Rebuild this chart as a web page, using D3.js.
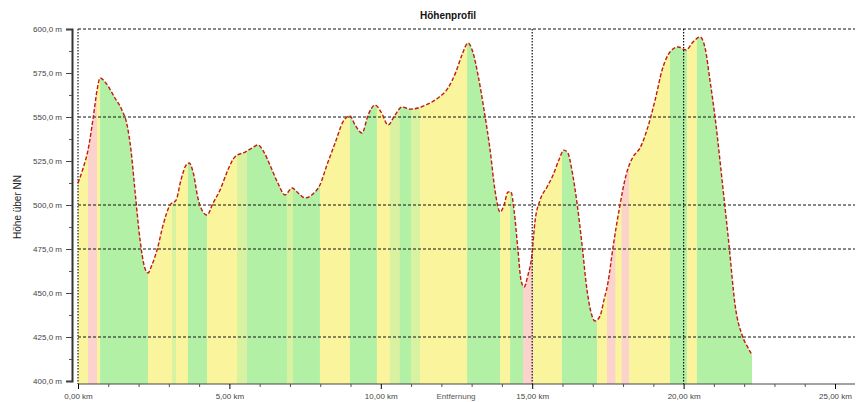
<!DOCTYPE html>
<html><head><meta charset="utf-8">
<script src="https://cdn.jsdelivr.net/npm/d3@7"></script>
<style>body{margin:0;background:#fff}svg{display:block;font-family:"Liberation Sans",Arial,sans-serif}</style>
</head><body><svg id="c" width="861" height="402"></svg>
<script>
const distKm=[0,0.17,0.33,0.50,0.63,0.73,0.92,1.22,1.45,1.62,1.75,1.88,2.05,2.18,2.31,2.44,2.61,2.81,3.04,3.24,3.40,3.57,3.67,3.80,3.96,4.13,4.26,4.46,4.69,4.95,5.18,5.52,5.75,5.94,6.14,6.34,6.60,6.84,7.07,7.27,7.50,7.76,7.99,8.22,8.49,8.75,8.98,9.15,9.38,9.58,9.81,10.01,10.24,10.47,10.70,10.96,11.23,11.56,11.89,12.22,12.48,12.68,12.88,13.04,13.21,13.41,13.61,13.77,13.94,14.07,14.20,14.30,14.40,14.53,14.63,14.73,14.86,14.99,15.09,15.26,15.49,15.69,15.88,16.05,16.18,16.31,16.48,16.64,16.81,16.94,17.07,17.24,17.37,17.50,17.67,17.87,18.10,18.33,18.56,18.79,19.06,19.29,19.55,19.82,20.08,20.31,20.54,20.71,20.87,21.07,21.27,21.50,21.70,21.93,22.13,22.26];
const elevM=[512.5,521,531.2,549.4,565.3,572.2,569.3,560.8,554,545.5,531.2,508.5,480.1,465.9,461.4,465.9,474.4,488.6,500,502.8,514.2,522.7,523.9,518.8,504,496,494.3,501.1,508.5,519.9,527.3,530.1,532.4,534.1,530.1,522.7,512.5,505.7,509.7,506.8,504,506.3,511.4,522.7,535.2,547.2,550.6,545.5,540.9,551.1,556.8,552.8,545.5,551.1,555.7,554.5,555.1,557.4,560.8,566.5,575.6,585.2,592,586.9,573.9,554,531.2,508.5,496,500,507.4,507.4,497.2,474.4,457.4,453.4,460.2,471.6,490.3,502.8,510.2,517,525.6,531.2,529.5,519.9,501.1,478.4,451.7,439.2,434.1,436.9,446,455.7,476.1,497.2,517,527.3,532.4,542.6,559.7,576.7,586.9,589.8,588.1,592.6,595.5,589.2,571,545.5,514.2,477.3,443.2,426.1,418.8,414.8];
// gradient class stripes: start km, end km, class
const stripeStart=[0,0.33,0.63,0.73,2.31,3.10,3.24,3.63,4.26,5.25,5.58,6.90,7.10,7.99,8.98,9.87,10.30,10.63,11.00,11.30,11.72,12.85,13.94,14.27,14.70,15.03,15.98,17.14,17.47,17.75,17.95,18.20,18.46,19.55,20.11,20.44];
const stripeEnd=[0.33,0.63,0.73,2.31,3.10,3.24,3.63,4.26,5.25,5.58,6.90,7.10,7.99,8.98,9.87,10.30,10.63,11.00,11.30,11.72,12.85,13.94,14.27,14.70,15.03,15.98,17.14,17.47,17.75,17.95,18.20,18.46,19.55,20.11,20.44,22.4];
const stripeClass=["y","p","y","g","y","m","y","g","y","m","g","m","g","y","g","y","m","g","m","y","y","g","y","g","p","y","g","y","p","y","p","y","y","g","y","g"];
const yTicks=[600,575,550,525,500,475,450,425,400];
const yGrid=[600,550,500,475,425];
const xTicks=[0,5,10,15,20,25];
const xGrid=[15,20];
const xTickLabels=["0,00 km","5,00 km","10,00 km","15,00 km","20,00 km","25,00 km"];
const title="Höhenprofil", yTitle="Höhe über NN", xTitle="Entfernung";

const colors={g:"#b2f0a6",y:"#faf59c",p:"#fcd2cc",m:"#d8f2a2"};
const svg=d3.select("#c");
const x=d3.scaleLinear().domain([0,25]).range([78,835]);
const y=d3.scaleLinear().domain([400,600]).range([381,29]);
const pts=distKm.map((d,i)=>[d,elevM[i]]);

const area=d3.area().x(d=>x(d[0])).y0(y(400)+3).y1(d=>y(d[1])).curve(d3.curveMonotoneX);
const line=d3.line().x(d=>x(d[0])).y(d=>y(d[1])).curve(d3.curveMonotoneX);

svg.append("defs").append("clipPath").attr("id","ac").append("path").attr("d",area(pts));
const g=svg.append("g").attr("clip-path","url(#ac)");
g.selectAll("rect").data(stripeStart).join("rect")
 .attr("x",(d)=>x(d)).attr("width",(d,i)=>x(stripeEnd[i])-x(d)+0.5)
 .attr("y",20).attr("height",370).attr("fill",(d,i)=>colors[stripeClass[i]]);

// grid
svg.selectAll(".hg").data(yGrid).join("line").attr("class","hg")
 .attr("x1",78).attr("x2",855).attr("y1",d=>y(d)).attr("y2",d=>y(d))
 .attr("stroke","#111").attr("stroke-width",1).attr("stroke-dasharray","3,2");
svg.selectAll(".vg").data(xGrid).join("line").attr("class","vg")
 .attr("x1",d=>x(d)).attr("x2",d=>x(d)).attr("y1",29).attr("y2",384)
 .attr("stroke","#111").attr("stroke-width",1.2).attr("stroke-dasharray","1.5,1.5");
svg.append("line").attr("x1",x(0)).attr("x2",x(0)).attr("y1",29).attr("y2",384)
 .attr("stroke","#222").attr("stroke-width",1.2).attr("stroke-dasharray","1.5,1.5");

// profile line
svg.append("path").attr("d",line(pts)).attr("fill","none")
 .attr("stroke","#c21a10").attr("stroke-width",1.4).attr("stroke-dasharray","4,2");

// y axis
const ya=svg.append("g").attr("transform","translate(72,0)")
 .call(d3.axisLeft(y).tickValues(yTicks).tickSize(6).tickPadding(4).tickFormat(d=>d3.format(".1f")(d).replace(".",",")+" m"));
ya.select(".domain").attr("stroke","#333").attr("stroke-width",2);
ya.selectAll("text").attr("font-size",8).attr("fill","#444");
ya.selectAll(".tick line").attr("stroke","#444");
const yMinor=d3.range(400,600,12.5).filter(v=>!yTicks.includes(v));
svg.append("g").attr("transform","translate(72,0)")
 .call(d3.axisLeft(y).tickValues(yMinor).tickSize(3).tickFormat(""))
 .call(s=>s.select(".domain").remove()).selectAll("line").attr("stroke","#555");

// x axis
const xa=svg.append("g").attr("transform","translate(0,384)")
 .call(d3.axisBottom(x).tickValues(xTicks).tickSize(5).tickPadding(4).tickFormat((d,i)=>xTickLabels[i]));
xa.select(".domain").attr("stroke","#444").attr("d","M78,0H855");
xa.selectAll("text").attr("font-size",8).attr("fill","#444");
const xMinor=d3.range(0,25,1).filter(v=>v%5!==0);
svg.append("g").attr("transform","translate(0,384)")
 .call(d3.axisBottom(x).tickValues(xMinor).tickSize(3).tickFormat(""))
 .call(s=>s.select(".domain").remove()).selectAll("line").attr("stroke","#555");

svg.append("text").attr("x",448).attr("y",19).attr("text-anchor","middle")
 .attr("font-size",10).attr("font-weight","bold").attr("fill","#111").text(title);
svg.append("text").attr("transform","translate(21,207) rotate(-90)").attr("text-anchor","middle")
 .attr("font-size",10).attr("fill","#222").text(yTitle);
svg.append("text").attr("x",456).attr("y",399).attr("text-anchor","middle")
 .attr("font-size",8).attr("fill","#555").text(xTitle);
</script></body></html>
